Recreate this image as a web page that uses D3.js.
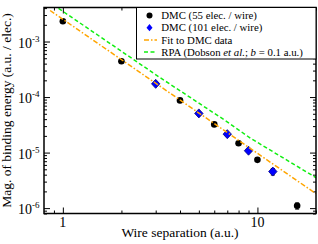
<!DOCTYPE html>
<html><head><meta charset="utf-8">
<script src="https://cdn.jsdelivr.net/npm/d3@7/dist/d3.min.js"></script>
<style>html,body{margin:0;padding:0;background:#fff;} svg{display:block;font-family:"Liberation Serif","Times New Roman",serif;}</style>
</head><body>
<svg id="c" width="318" height="244"></svg>
<script>
// ---- data ----
const dmc55X = [1, 2, 4, 6, 8, 10, 16];
const dmc55Y = [2.32e-3, 4.41e-4, 8.7e-5, 3.22e-5, 1.47e-5, 7.4e-6, 1.10e-6];
const dmc55Err = [0, 0, 0, 0, 0, 0, 0.14e-6];
const dmc101X = [3, 5, 7, 9, 12];
const dmc101Y = [1.73e-4, 5.08e-5, 2.15e-5, 1.08e-5, 4.55e-6];
const dmc101Err = [0, 0, 0, 0, 0.6e-6];
const fitX = [0.86, 20];
const fitY = [3.62e-3, 1.82e-6];
const rpaX = [0.95, 3.1, 6.9, 9.2, 20.2];
const rpaY = [3.96e-3, 2.34e-4, 3.7e-5, 1.82e-5, 3.46e-6];
const xMajor = [1, 10];
const xMinor = [0.9, 2, 3, 4, 5, 6, 7, 8, 9, 20];
const yMajor = [1e-6, 1e-5, 1e-4, 1e-3];
const yMajorExp = ["-6", "-5", "-4", "-3"];
const legendLabels = ["DMC (55 elec. / wire)", "DMC (101 elec. / wire)", "Fit to DMC data", "RPA"];

// ---- layout ----
const L = 44, R = 316, T = 7.5, B = 213.5;
const svg = d3.select("#c");
const x = d3.scaleLog().domain([0.8, 20]).range([L, R]);
const y = d3.scaleLog().domain([8e-7, 4.1e-3]).range([B, T]);

const yMinor = [];
[1e-7, 1e-6, 1e-5, 1e-4, 1e-3].forEach(d => { for (let k = 2; k <= 9; k++) { const v = d * k; if (v >= 8e-7 && v <= 4.1e-3) yMinor.push(v); } });

svg.append("defs").append("clipPath").attr("id", "clip")
  .append("rect").attr("x", L).attr("y", T).attr("width", R - L).attr("height", B - T);

// ---- axes (ticks inward on all four sides) ----
function ax(gen, tr) {
  const g = svg.append("g").attr("transform", tr).call(gen);
  g.select(".domain").remove();
  g.selectAll("line").attr("stroke", "#000").attr("stroke-width", 1);
  return g;
}
ax(d3.axisBottom(x).tickValues(xMajor).tickSize(-6).tickFormat(""), `translate(0,${B})`);
ax(d3.axisBottom(x).tickValues(xMinor).tickSize(-3).tickFormat(""), `translate(0,${B})`);
ax(d3.axisTop(x).tickValues(xMajor).tickSize(-6).tickFormat(""), `translate(0,${T})`);
ax(d3.axisTop(x).tickValues(xMinor).tickSize(-3).tickFormat(""), `translate(0,${T})`);
ax(d3.axisLeft(y).tickValues(yMajor).tickSize(-6).tickFormat(""), `translate(${L},0)`);
ax(d3.axisLeft(y).tickValues(yMinor).tickSize(-3).tickFormat(""), `translate(${L},0)`);
ax(d3.axisRight(y).tickValues(yMajor).tickSize(-6).tickFormat(""), `translate(${R},0)`);
ax(d3.axisRight(y).tickValues(yMinor).tickSize(-3).tickFormat(""), `translate(${R},0)`);

// tick labels
svg.append("g").selectAll("text").data(xMajor).join("text")
  .attr("x", d => x(d)).attr("y", B + 13).attr("text-anchor", "middle")
  .attr("font-size", 14).text(d => d);
const yl = svg.append("g").selectAll("text").data(yMajor).join("text")
  .attr("x", 39.5).attr("y", d => y(d) + 6).attr("text-anchor", "end").attr("font-size", 14);
yl.append("tspan").text("10");
yl.append("tspan").attr("dy", -6).attr("font-size", 9).text((d, i) => yMajorExp[i]);

// axis titles
svg.append("text").attr("x", (L + R) / 2).attr("y", 237).attr("text-anchor", "middle")
  .attr("font-size", 13.5).text("Wire separation (a.u.)");
svg.append("text").attr("transform", `translate(11,${(T + B) / 2}) rotate(-90)`)
  .attr("text-anchor", "middle").attr("font-size", 13.5).text("Mag. of binding energy (a.u. / elec.)");

// ---- data marks ----
const plot = svg.append("g").attr("clip-path", "url(#clip)");
const diamond = "M0,-4.5L4.2,0L0,4.5L-4.2,0Z";

function errbars(xs, ys, es) {
  xs.forEach((d, i) => {
    if (!es[i]) return;
    const px = x(d), y1 = y(ys[i] - es[i]), y2 = y(ys[i] + es[i]);
    plot.append("line").attr("x1", px).attr("x2", px).attr("y1", y1).attr("y2", y2).attr("stroke", "#000").attr("stroke-width", 1);
    [y1, y2].forEach(v => plot.append("line").attr("x1", px - 2).attr("x2", px + 2).attr("y1", v).attr("y2", v).attr("stroke", "#000").attr("stroke-width", 1));
  });
}
errbars(dmc55X, dmc55Y, dmc55Err);
errbars(dmc101X, dmc101Y, dmc101Err);

plot.selectAll(".p55").data(dmc55X).join("circle")
  .attr("cx", d => x(d)).attr("cy", (d, i) => y(dmc55Y[i])).attr("r", 3.3).attr("fill", "#000");
plot.selectAll(".p101").data(dmc101X).join("path")
  .attr("d", diamond).attr("transform", (d, i) => `translate(${x(d)},${y(dmc101Y[i])})`)
  .attr("fill", "#0000ff").attr("stroke", "#000080").attr("stroke-width", 0.8);

const line = d3.line().x(d => x(d[0])).y(d => y(d[1]));
plot.append("path").attr("d", line(fitX.map((d, i) => [d, fitY[i]])))
  .attr("fill", "none").attr("stroke", "#ffa500").attr("stroke-width", 1.5).attr("stroke-dasharray", "5,2,1.5,2");
plot.append("path").attr("d", line(rpaX.map((d, i) => [d, rpaY[i]])))
  .attr("fill", "none").attr("stroke", "#11ee11").attr("stroke-width", 1.5).attr("stroke-dasharray", "4,2.5");

// ---- frame ----
svg.append("rect").attr("x", L).attr("y", T).attr("width", R - L).attr("height", B - T)
  .attr("fill", "none").attr("stroke", "#000").attr("stroke-width", 1.5);

// ---- legend ----
const lg = svg.append("g");
lg.append("rect").attr("x", 136.5).attr("y", T).attr("width", R - 136.5).attr("height", 59 - T)
  .attr("fill", "#fff").attr("stroke", "#000").attr("stroke-width", 1);
const ly = [15.5, 27.7, 39.9, 52.1];
lg.append("circle").attr("cx", 149.5).attr("cy", ly[0]).attr("r", 3).attr("fill", "#000");
lg.append("path").attr("d", "M0,-3.6L3,0L0,3.6L-3,0Z").attr("transform", `translate(149.5,${ly[1]})`).attr("fill", "#0000ff");
lg.append("line").attr("x1", 144).attr("x2", 157).attr("y1", ly[2]).attr("y2", ly[2])
  .attr("stroke", "#ffa500").attr("stroke-width", 1.5).attr("stroke-dasharray", "5,2,1.5,2");
lg.append("line").attr("x1", 144).attr("x2", 157).attr("y1", ly[3]).attr("y2", ly[3])
  .attr("stroke", "#11ee11").attr("stroke-width", 1.5).attr("stroke-dasharray", "4,2.5");
const lt = lg.selectAll(".lt").data(legendLabels).join("text")
  .attr("x", 161.3).attr("y", (d, i) => ly[i] + 3.7).attr("font-size", 10.8);
lt.filter((d, i) => i < 3).text(d => d);
const rpa = lt.filter((d, i) => i === 3);
rpa.append("tspan").text("RPA (Dobson ");
rpa.append("tspan").attr("font-style", "italic").text("et al.");
rpa.append("tspan").text("; ");
rpa.append("tspan").attr("font-style", "italic").text("b");
rpa.append("tspan").text(" = 0.1 a.u.)");
</script>
</body></html>
